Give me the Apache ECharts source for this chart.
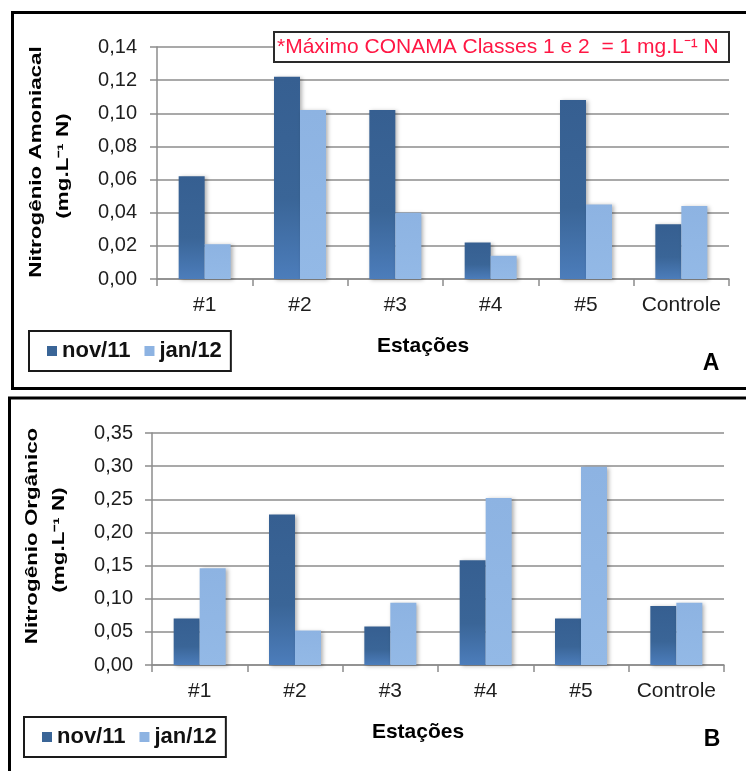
<!DOCTYPE html>
<html>
<head>
<meta charset="utf-8">
<script src="https://cdn.jsdelivr.net/npm/echarts@6/dist/echarts.min.js"></script>
<style>
html,body{margin:0;padding:0;background:#fff;}
#c{width:746px;height:771px;}
</style>
</head>
<body>
<div id="c"></div>
<script>
// ---- data ----
const categories = ['#1', '#2', '#3', '#4', '#5', 'Controle'];
const seriesNames = ['nov/11', 'jan/12'];
const amoniacalNov = [0.062, 0.122, 0.102, 0.022, 0.108, 0.033];
const amoniacalJan = [0.021, 0.102, 0.040, 0.014, 0.045, 0.044];
const organicoNov = [0.070, 0.227, 0.058, 0.158, 0.070, 0.089];
const organicoJan = [0.146, 0.052, 0.094, 0.252, 0.299, 0.094];
const yMaxA = 0.14, yStepA = 0.02;
const yMaxB = 0.35, yStepB = 0.05;
const yNameA = ['Nitrogênio Amoniacal', '(mg.L⁻¹ N)'];
const yNameB = ['Nitrogênio Orgânico', '(mg.L⁻¹ N)'];
const xName = 'Estações';
const noteText = '*Máximo CONAMA Classes 1 e 2  = 1 mg.L⁻¹ N';

// ---- styles ----
const FONT = "'Liberation Sans', Arial, sans-serif";
const gridColor = '#8c8c8c';
const darkFill = new echarts.graphic.LinearGradient(0, 0, 0, 1, [
  {offset: 0, color: '#365F91'}, {offset: 0.6, color: '#3A6597'}, {offset: 1, color: '#4C7DBB'}
]);
const lightFill = new echarts.graphic.LinearGradient(0, 0, 0, 1, [
  {offset: 0, color: '#8DB3E2'}, {offset: 1, color: '#93B9E6'}
]);
const fmt = v => v.toFixed(2).replace('.', ',');

function xAxisCfg(gridIndex) {
  return {
    type: 'category', gridIndex, data: categories,
    axisLine: {lineStyle: {color: gridColor, width: 1.5}},
    axisTick: {show: true, length: 7, interval: 0, lineStyle: {color: gridColor, width: 1.5}},
    axisLabel: {margin: 16, fontFamily: FONT, fontSize: 21, color: '#1e1e1e', interval: 0}
  };
}
function yAxisCfg(gridIndex, max, step, margin) {
  return {
    type: 'value', gridIndex, min: 0, max, interval: step,
    axisLine: {show: true, lineStyle: {color: gridColor, width: 1.5}},
    axisTick: {show: true, length: 7, lineStyle: {color: gridColor, width: 1.5}},
    splitLine: {lineStyle: {color: gridColor, width: 1.5}},
    axisLabel: {margin, fontFamily: FONT, fontSize: 20, color: '#1e1e1e', formatter: fmt}
  };
}
function barSeries(name, data, idx, fill) {
  return {
    name, type: 'bar', data, xAxisIndex: idx, yAxisIndex: idx,
    barWidth: 26, barGap: '0%',
    itemStyle: {color: fill, shadowColor: 'rgba(0,0,0,0.3)', shadowBlur: 4, shadowOffsetX: 2, shadowOffsetY: 1},
    emphasis: {disabled: true}
  };
}
function legendCfg(left, top) {
  return {
    left, top, orient: 'horizontal',
    data: [
      {name: seriesNames[0], itemStyle: {color: '#3A6597'}},
      {name: seriesNames[1], itemStyle: {color: '#8DB3E2'}}
    ],
    icon: 'rect', itemWidth: 10, itemHeight: 10, itemGap: 14,
    padding: [9, 9, 9, 18],
    backgroundColor: '#fff', borderColor: '#1a1a1a', borderWidth: 2,
    selectedMode: false,
    textStyle: {fontFamily: FONT, fontSize: 22, fontWeight: 'bold', color: '#111', lineHeight: 22}
  };
}
function rotText(x, y, text, size) {
  return {
    type: 'text', x, y, rotation: Math.PI / 2, scaleX: 1.4, silent: true,
    style: {text, font: 'bold ' + size + 'px ' + FONT, fill: '#000', align: 'center', verticalAlign: 'middle'}
  };
}
function plainText(x, y, text, font, fill) {
  return {
    type: 'text', x, y, silent: true,
    style: {text, font, fill: fill || '#000', align: 'center', verticalAlign: 'middle'}
  };
}

const chart = echarts.init(document.getElementById('c'), null, {renderer: 'canvas'});
chart.setOption({
  animation: false,
  backgroundColor: '#fff',
  grid: [
    {left: 157, top: 47, right: 17, bottom: 492},
    {left: 152, top: 433, right: 22, bottom: 106}
  ],
  xAxis: [xAxisCfg(0), xAxisCfg(1)],
  yAxis: [yAxisCfg(0, yMaxA, yStepA, 20), yAxisCfg(1, yMaxB, yStepB, 19)],
  legend: [legendCfg(29, 331), legendCfg(24, 717)],
  series: [
    barSeries(seriesNames[0], amoniacalNov, 0, darkFill),
    barSeries(seriesNames[1], amoniacalJan, 0, lightFill),
    barSeries(seriesNames[0], organicoNov, 1, darkFill),
    barSeries(seriesNames[1], organicoJan, 1, lightFill)
  ],
  graphic: [
    // panel frames
    {type: 'rect', silent: true, shape: {x: 12.5, y: 12.5, width: 800, height: 376}, style: {fill: 'none', stroke: '#000', lineWidth: 3}, z: -1},
    {type: 'rect', silent: true, shape: {x: 9.5, y: 398, width: 800, height: 500}, style: {fill: 'none', stroke: '#000', lineWidth: 3}, z: -1},
    // note box
    {type: 'rect', silent: true, shape: {x: 274, y: 32, width: 455, height: 30}, style: {fill: '#fff', stroke: '#2a2a2a', lineWidth: 2}, z: 10},
    {type: 'text', silent: true, x: 277, y: 47, z: 11, style: {text: noteText, font: '21px ' + FONT, fill: '#FF1744', align: 'left', verticalAlign: 'middle'}},
    // y axis names
    rotText(37, 162, yNameA[0], 16),
    rotText(64, 166, yNameA[1], 16),
    rotText(33, 536, yNameB[0], 16),
    rotText(60, 540, yNameB[1], 16),
    // x axis names
    plainText(423, 346, xName, 'bold 21px ' + FONT),
    plainText(418, 732, xName, 'bold 21px ' + FONT),
    // panel letters
    plainText(711, 364, 'A', 'bold 23px ' + FONT),
    plainText(712, 740, 'B', 'bold 23px ' + FONT)
  ]
});
</script>
</body>
</html>
